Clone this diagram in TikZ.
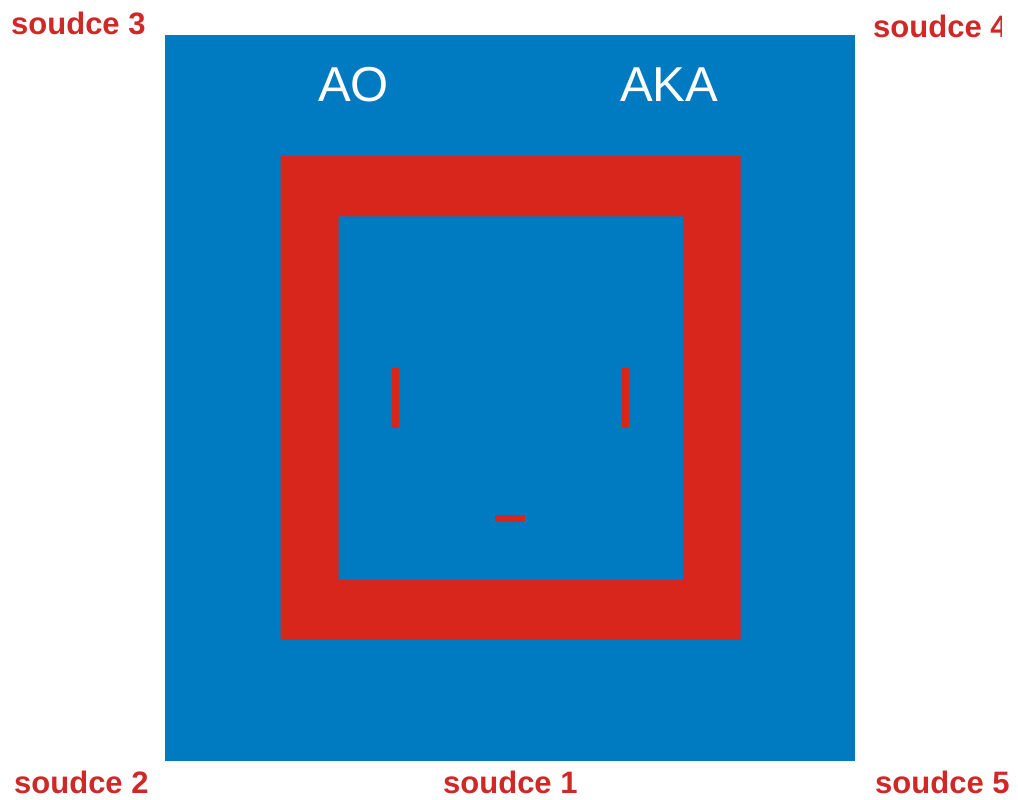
\documentclass[tikz,border=0pt]{standalone}
\usepackage{fontspec}
\setmainfont{Liberation Sans}
\definecolor{panelblue}{RGB}{0,122,192}
\definecolor{framered}{RGB}{217,38,28}
\definecolor{labelred}{RGB}{208,40,38}
\begin{document}
\begin{tikzpicture}[x=1pt,y=1pt,
  srclabel/.style={anchor=base west,inner sep=0pt,text=labelred,font=\bfseries\fontsize{31}{31}\selectfont},
  toplabel/.style={anchor=base west,inner sep=0pt,text=white,font=\fontsize{49}{49}\selectfont},
  mark/.style={fill=framered,draw=none}]
\useasboundingbox[fill=white] (0,0) rectangle (1018,800);
% outer blue panel
\fill[panelblue] (165,800-761) rectangle (855,800-35);
% red frame
\fill[framered,even odd rule] (280.5,800-640) rectangle (740.5,800-156)
      (338.5,800-580) rectangle (683,800-216.5);
% small red marks
\fill[framered] (392,800-428) rectangle (399,800-368);
\fill[framered] (622,800-428) rectangle (629,800-368);
\fill[framered] (495,800-522) rectangle (525,800-515.5);
% labels inside
\node[toplabel] (ao) at (318,800-102) {AO};
\node[toplabel] (aka) at (620,800-102) {AKA};
% source labels
\node[srclabel] (s3) at (11,800-35) {soudce 3};
\begin{scope}
\clip (0,0) rectangle (1001,800);
\node[srclabel] (s4) at (873,800-38) {soudce 4};
\end{scope}
\node[srclabel] (s2) at (14,800-794) {soudce 2};
\node[srclabel] (s1) at (443,800-794) {soudce 1};
\node[srclabel] (s5) at (875,800-794) {soudce 5};
\end{tikzpicture}
\end{document}
